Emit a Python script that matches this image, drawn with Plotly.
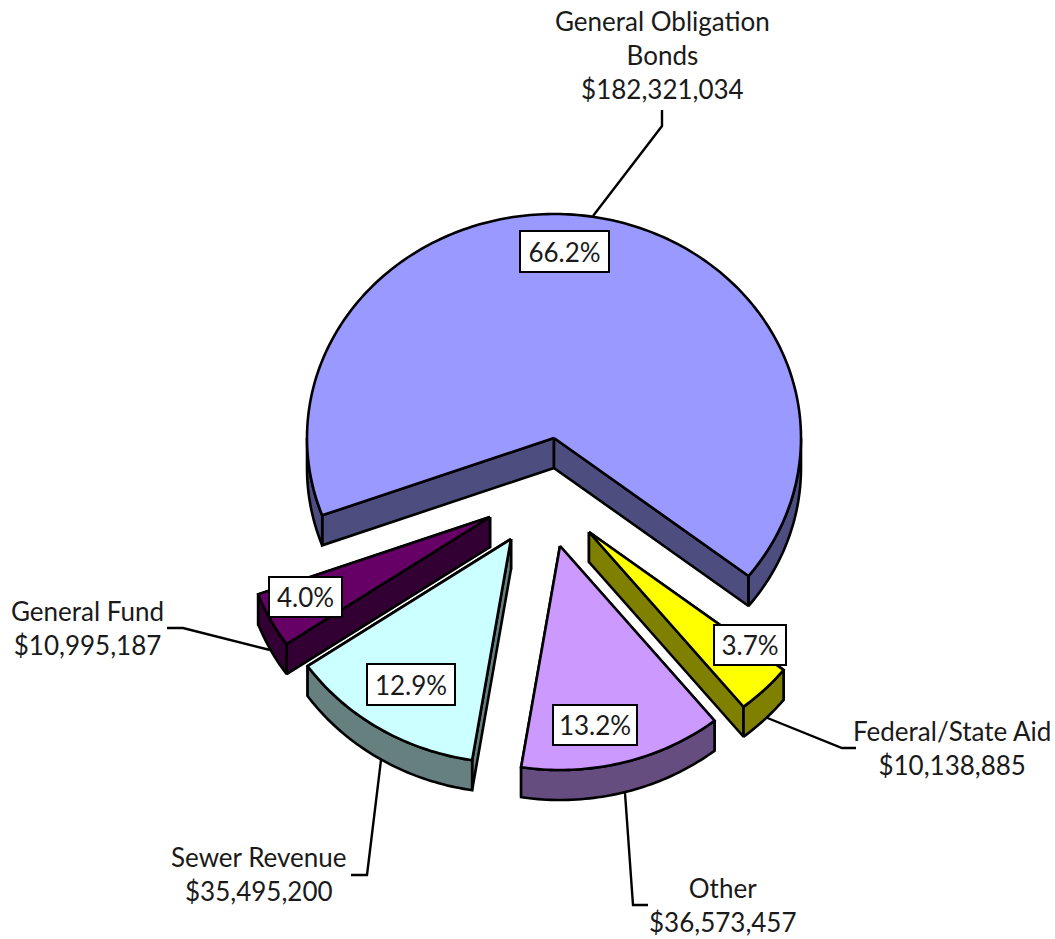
import math
import numpy as np
import plotly.graph_objects as go

# ---- data ----
categories = ["General Obligation<br>Bonds", "Federal/State Aid", "Other", "Sewer Revenue", "General Fund"]
values = [182321034, 10138885, 36573457, 35495200, 10995187]
percent_labels = ["66.2%", "3.7%", "13.2%", "12.9%", "4.0%"]

# ---- style ----
face_colors = ["#9999FF", "#FFFF00", "#CC99FF", "#CCFFFF", "#660066"]
side_colors = ["#4D4D80", "#808000", "#664D80", "#668080", "#330033"]
apexes = [(554, 438), (589, 532), (560, 546), (511, 539), (490, 517)]
RX, RY, DEPTH = 247, 224, 30
FIRST_ANGLE = 249.8
FONT = "Lato"
FS = 26
label_pos = [(662, 55), (952, 748), (723, 905), (259, 874), (87, 628)]
pct_box = [(564.5, 251.5, 89, 41), (749.5, 645, 72, 40), (595, 725, 84, 40),
           (411, 684.5, 88, 41), (305.5, 597, 73, 40)]
leaders = [
    [(662, 110), (662, 126), (593, 216)],
    [(856, 748), (842, 748), (765, 717)],
    [(625, 793), (633, 905), (648, 905)],
    [(381, 760), (367, 875), (351, 875)],
    [(167, 628), (183, 628), (270, 650)],
]
paint_order = [0, 4, 3, 1, 2]

total = sum(values)
spans = [v / total * 360 for v in values]
starts = [FIRST_ANGLE + sum(spans[:i]) for i in range(len(values))]


def pt(apex, deg):
    r = math.radians(deg)
    return apex[0] + RX * math.sin(r), apex[1] - RY * math.cos(r)


def arc(apex, a0, a1):
    n = max(2, int(abs(a1 - a0)) + 2)
    return [pt(apex, a) for a in np.linspace(a0, a1, n)]


def poly(fig, pts, fill):
    xs = [p[0] for p in pts] + [pts[0][0]]
    ys = [p[1] for p in pts] + [pts[0][1]]
    fig.add_trace(go.Scatter(x=xs, y=ys, mode="lines", fill="toself", fillcolor=fill,
                             line=dict(color="black", width=2.6, simplify=False),
                             hoverinfo="skip", showlegend=False))


fig = go.Figure()

for pts in leaders:
    fig.add_trace(go.Scatter(x=[p[0] for p in pts], y=[p[1] for p in pts], mode="lines",
                             line=dict(color="black", width=2.4), hoverinfo="skip", showlegend=False))

for i in paint_order:
    apex = apexes[i]
    a0, a1 = starts[i], starts[i] + spans[i]
    low = (apex[0], apex[1] + DEPTH)
    # radial cut faces, the one reaching furthest back painted first
    for a in sorted((a0, a1), key=lambda d: pt(apex, d)[1]):
        c = pt(apex, a)
        poly(fig, [apex, c, (c[0], c[1] + DEPTH), low], side_colors[i])
    # outer rim where it faces the viewer
    for k in (0, 1):
        lo, hi = max(a0, 90 + 360 * k), min(a1, 270 + 360 * k)
        if hi > lo:
            top = arc(apex, lo, hi)
            poly(fig, top + [(x, y + DEPTH) for x, y in reversed(top)], side_colors[i])
    # top face
    poly(fig, [apex] + arc(apex, a0, a1), face_colors[i])

for i, cat in enumerate(categories):
    fig.add_annotation(x=label_pos[i][0], y=label_pos[i][1], text=f"{cat}<br>${values[i]:,}",
                       showarrow=False, align="center", xanchor="center", yanchor="middle",
                       font=dict(family=FONT, size=FS, color="#1a1a1a"))
    cx, cy, w, h = pct_box[i]
    fig.add_annotation(x=cx, y=cy, text=percent_labels[i], showarrow=False,
                       xanchor="center", yanchor="middle", width=w - 2, height=h - 2,
                       bgcolor="white", bordercolor="black", borderwidth=2, borderpad=0,
                       font=dict(family=FONT, size=FS, color="#1a1a1a"))

fig.update_layout(
    width=1055, height=939, margin=dict(l=0, r=0, t=0, b=0),
    paper_bgcolor="white", plot_bgcolor="white", showlegend=False,
    xaxis=dict(range=[0, 1055], visible=False, fixedrange=True),
    yaxis=dict(range=[939, 0], visible=False, fixedrange=True),
)

fig.write_html("out.html", config={"displayModeBar": False},
               post_script="document.body.style.margin='0';document.body.style.overflow='hidden';")
